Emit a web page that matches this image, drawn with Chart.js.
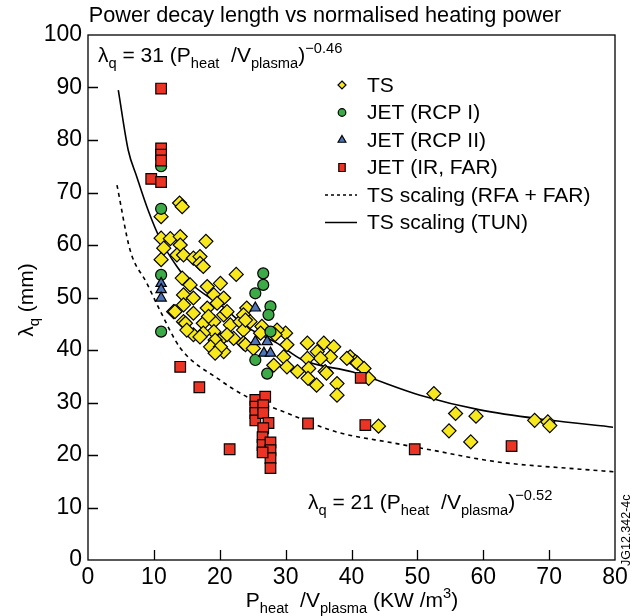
<!DOCTYPE html>
<html>
<head>
<meta charset="utf-8">
<script src="https://cdn.jsdelivr.net/npm/chart.js@4.4.0/dist/chart.umd.min.js"></script>
<style>
  body { margin: 0; background: #fff; }
  canvas { display: block; }
</style>
</head>
<body>
<canvas id="chart" width="644" height="616"></canvas>
<script>
const FONT = '"Liberation Sans", Arial, Helvetica, sans-serif';

// values: [P_heat/V_plasma (kW/m3), lambda_q (mm)]
const tsData = [
  [13.9, 68.0], [14.3, 67.3], [11.1, 65.4], [11.1, 61.3], [12.5, 61.2], [14.0, 61.6], [17.9, 60.7],
  [11.5, 59.4], [14.0, 60.0], [13.5, 58.1], [14.5, 58.1], [16.0, 57.5], [17.0, 57.8], [17.0, 56.5],
  [17.5, 55.9], [11.1, 57.2], [22.5, 54.4], [14.3, 53.7], [15.5, 52.4], [20.1, 52.7], [18.1, 52.1],
  [14.5, 50.5], [16.0, 49.9], [19.1, 50.5], [20.6, 49.9], [14.5, 48.6], [13.0, 47.3], [16.0, 47.0],
  [18.1, 48.0], [19.6, 48.9], [14.5, 45.4], [17.5, 45.1], [19.1, 45.4], [20.6, 46.7], [21.6, 44.8],
  [23.1, 45.4], [23.6, 43.8], [19.1, 43.5], [17.5, 43.2], [16.0, 42.9], [20.1, 41.9], [22.1, 42.2],
  [19.1, 40.3], [20.6, 39.7], [23.6, 41.3], [24.1, 48.0], [23.6, 46.7], [24.6, 45.4], [26.4, 44.5],
  [26.2, 43.2], [23.9, 41.0], [25.1, 40.3], [30.0, 43.2], [28.7, 43.8], [30.2, 41.0], [33.3, 41.3],
  [35.8, 41.3], [37.3, 40.6], [34.8, 39.7], [36.8, 38.7], [35.3, 38.4], [33.3, 38.4], [29.7, 38.7],
  [30.2, 36.8], [33.5, 36.5], [36.0, 35.9], [39.8, 38.7], [40.6, 37.8], [28.2, 37.1], [39.3, 38.4],
  [40.9, 37.5], [41.9, 36.5], [42.6, 34.6], [37.8, 33.6], [34.7, 33.3], [33.4, 34.6], [31.8, 35.9],
  [36.2, 35.6], [37.8, 31.4], [44.1, 25.5], [52.5, 31.7], [55.8, 27.9], [58.9, 27.4], [54.8, 24.6],
  [58.1, 22.5], [67.8, 26.6], [69.8, 26.3], [70.1, 25.6], [13.2, 47.3], [14.8, 45.1], [18.3, 46.4],
  [21.1, 47.3], [23.9, 45.7], [21.1, 42.9], [19.3, 41.9], [17.0, 42.5], [18.6, 40.6], [15.0, 43.8],
  [28.4, 42.9], [20.1, 40.6], [19.3, 39.4]
];
const rcp1Data = [
  [11.1, 75.0], [11.1, 66.9], [11.1, 54.3], [11.1, 43.5], [26.6, 54.6], [26.6, 52.4], [25.4, 50.8],
  [27.7, 48.3], [27.4, 46.7], [27.7, 43.5], [25.4, 38.1], [27.2, 35.5]
];
const rcp2Data = [
  [11.1, 52.7], [11.1, 51.5], [11.1, 49.9], [25.4, 48.0], [25.4, 41.6], [27.2, 41.6], [26.7, 39.4], [27.7, 39.4]
];
const irData = [
  [11.1, 89.8], [11.1, 78.4], [11.1, 77.2], [11.1, 76.1], [9.6, 72.6], [11.1, 72.0], [14.0, 36.8],
  [16.9, 32.9], [21.5, 21.1], [33.4, 26.0], [41.4, 34.7], [42.1, 25.7], [49.6, 21.1], [64.3, 21.7],
  [25.4, 30.5], [26.9, 31.1], [25.4, 29.2], [25.4, 28.0], [25.4, 26.6], [26.6, 29.5], [26.6, 28.0],
  [27.4, 26.1], [26.6, 25.1], [26.5, 23.4], [26.5, 21.9], [27.7, 22.4], [27.7, 20.9], [27.7, 19.4],
  [27.7, 17.5], [26.5, 20.5]
];
// scaling curves
const tunCurve = [
  [4.6, 89.5], [6.1, 78.1], [7.4, 73.0], [9.1, 66.7], [11.0, 61.0], [13.5, 55.9], [15.5, 52.8],
  [20.5, 48.2], [24.1, 44.4], [28.7, 41.3], [32.6, 38.1], [40.2, 35.8], [50.4, 31.4], [59.5, 28.6],
  [69.7, 26.7], [79.7, 25.3]
];
const rfaCurve = [
  [4.4, 71.4], [6.4, 59.0], [8.9, 52.8], [10.9, 47.6], [14.0, 40.4], [20.0, 34.3], [24.1, 31.1],
  [30.2, 28.0], [37.7, 24.4], [46.3, 22.3], [51.9, 21.0], [62.1, 18.7], [74.7, 17.3], [80.0, 16.8]
];
const xMax = 80, yMax = 100, tickStep = 10;

const toXY = arr => arr.map(([x, y]) => ({ x, y }));

function partsWidth(ctx, parts, size) {
  let w = 0;
  parts.forEach(([t, kind]) => {
    ctx.font = (kind ? size * 0.7 : size) + 'px ' + FONT;
    w += ctx.measureText(t).width;
  });
  return w;
}

function richText(ctx, x, y, parts, size) {
  let cx = x;
  ctx.textAlign = 'left';
  ctx.textBaseline = 'alphabetic';
  parts.forEach(([t, kind]) => {
    const s = kind ? size * 0.7 : size;
    const dy = kind === 'sub' ? size * 0.28 : kind === 'sup' ? -size * 0.45 : 0;
    ctx.font = s + 'px ' + FONT;
    ctx.fillText(t, cx, y + dy);
    cx += ctx.measureText(t).width;
  });
}

function marker(ctx, style, x, y, r, fill) {
  ctx.beginPath();
  if (style === 'rectRot') {
    ctx.moveTo(x, y - r); ctx.lineTo(x + r, y); ctx.lineTo(x, y + r); ctx.lineTo(x - r, y);
    ctx.closePath();
  } else if (style === 'circle') {
    ctx.arc(x, y, r, 0, Math.PI * 2);
  } else if (style === 'triangle') {
    ctx.moveTo(x, y - r); ctx.lineTo(x + r * 0.87, y + r * 0.5); ctx.lineTo(x - r * 0.87, y + r * 0.5);
    ctx.closePath();
  } else {
    ctx.rect(x - r * 0.8, y - r, r * 1.6, r * 2);
  }
  ctx.fillStyle = fill;
  ctx.fill();
  ctx.lineWidth = 1.2;
  ctx.strokeStyle = '#000';
  ctx.stroke();
}

const legendRows = [
  { label: 'TS', style: 'rectRot', color: '#f7e81e', r: 4 },
  { label: 'JET (RCP I)', style: 'circle', color: '#3daa48', r: 3.8 },
  { label: 'JET (RCP II)', style: 'triangle', color: '#4d74b8', r: 4.5 },
  { label: 'JET (IR, FAR)', style: 'rect', color: '#ec3424', r: 4 },
  { label: 'TS scaling (RFA + FAR)', dash: [3, 3] },
  { label: 'TS scaling (TUN)', dash: [] }
];

const decor = {
  id: 'decor',
  afterDraw(chart) {
    const { ctx, chartArea: a, scales: { x, y } } = chart;
    ctx.save();
    ctx.strokeStyle = '#000';
    ctx.lineWidth = 1.3;
    ctx.strokeRect(a.left, a.top, a.right - a.left, a.bottom - a.top);
    ctx.beginPath();
    for (let v = tickStep; v < xMax; v += tickStep) {
      const px = Math.round(x.getPixelForValue(v)) + 0.5;
      ctx.moveTo(px, a.bottom); ctx.lineTo(px, a.bottom - 10);
    }
    for (let v = tickStep; v < yMax; v += tickStep) {
      const py = Math.round(y.getPixelForValue(v)) + 0.5;
      ctx.moveTo(a.left, py); ctx.lineTo(a.left + 10, py);
    }
    ctx.stroke();

    ctx.fillStyle = '#000';
    // title
    ctx.font = '21.7px ' + FONT;
    ctx.textAlign = 'center';
    ctx.textBaseline = 'alphabetic';
    ctx.fillText('Power decay length vs normalised heating power', 325, 22);

    // fitted formulas
    richText(ctx, 98, 62, [['λ', ''], ['q', 'sub'], [' = 31 (P', ''], ['heat', 'sub'], ['  /V', ''],
      ['plasma', 'sub'], [')', ''], ['−0.46', 'sup']], 21);
    richText(ctx, 308, 509, [['λ', ''], ['q', 'sub'], [' = 21 (P', ''], ['heat', 'sub'], ['  /V', ''],
      ['plasma', 'sub'], [')', ''], ['−0.52', 'sup']], 21);

    // axis titles
    const xt = [['P', ''], ['heat', 'sub'], ['  /V', ''], ['plasma', 'sub'], [' (KW /m', ''], ['3', 'sup'], [')', '']];
    richText(ctx, 352 - partsWidth(ctx, xt, 21) / 2, 607, xt, 21);
    const yt = [['λ', ''], ['q', 'sub'], [' (mm)', '']];
    ctx.save();
    ctx.translate(33, 300);
    ctx.rotate(-Math.PI / 2);
    richText(ctx, -partsWidth(ctx, yt, 21) / 2, 0, yt, 21);
    ctx.restore();

    // figure code
    ctx.save();
    ctx.translate(630, 566);
    ctx.rotate(-Math.PI / 2);
    ctx.font = '12.5px ' + FONT;
    ctx.textAlign = 'left';
    ctx.fillText('JG12.342-4c', 0, 0);
    ctx.restore();

    // legend
    legendRows.forEach((row, i) => {
      const ly = 85 + i * 27.5;
      if (row.style) {
        marker(ctx, row.style, 342, ly, row.r, row.color);
      } else {
        ctx.beginPath();
        ctx.setLineDash(row.dash);
        ctx.lineWidth = 1.5;
        ctx.strokeStyle = '#000';
        ctx.moveTo(325, ly); ctx.lineTo(357, ly);
        ctx.stroke();
        ctx.setLineDash([]);
      }
      ctx.fillStyle = '#000';
      ctx.font = '21px ' + FONT;
      ctx.textAlign = 'left';
      ctx.textBaseline = 'middle';
      ctx.fillText(row.label, 367, ly + 1);
    });
    ctx.restore();
  }
};

const pointSet = (label, data, style, color, radius, order) => ({
  label, data: toXY(data), order,
  pointStyle: style, pointRadius: radius, pointHoverRadius: radius,
  backgroundColor: color, borderColor: '#000', borderWidth: 1.2, showLine: false
});

new Chart(document.getElementById('chart'), {
  type: 'scatter',
  data: {
    datasets: [
      pointSet('JET (IR, FAR)', irData, 'rect', '#ec3424', 7.5, 1),
      pointSet('JET (RCP II)', rcp2Data, 'triangle', '#4d74b8', 6, 2),
      pointSet('JET (RCP I)', rcp1Data, 'circle', '#3daa48', 5.5, 3),
      pointSet('TS', tsData, 'rectRot', '#f7e81e', 7, 4),
      {
        label: 'TS scaling (TUN)', data: toXY(tunCurve), showLine: true, pointRadius: 0,
        borderColor: '#000', borderWidth: 1.6, cubicInterpolationMode: 'monotone', order: 5
      },
      {
        label: 'TS scaling (RFA + FAR)', data: toXY(rfaCurve), showLine: true, pointRadius: 0,
        borderColor: '#000', borderWidth: 1.6, borderDash: [4, 4], cubicInterpolationMode: 'monotone', order: 6
      }
    ]
  },
  options: {
    responsive: false,
    animation: false,
    events: [],
    layout: { padding: { top: 35, right: 29, left: 0, bottom: 0 } },
    plugins: { legend: { display: false }, tooltip: { enabled: false } },
    scales: {
      x: {
        type: 'linear', min: 0, max: xMax,
        grid: { display: false, drawTicks: false, tickLength: 0 },
        border: { display: false },
        ticks: { stepSize: tickStep, color: '#000', padding: 4, font: { family: FONT, size: 23 } },
        afterFit: s => { s.height = 56; }
      },
      y: {
        min: 0, max: yMax,
        grid: { display: false, drawTicks: false, tickLength: 0 },
        border: { display: false },
        ticks: { stepSize: tickStep, color: '#000', padding: 6, font: { family: FONT, size: 23 } },
        afterFit: s => { s.width = 88; }
      }
    }
  },
  plugins: [decor]
});
</script>
</body>
</html>
